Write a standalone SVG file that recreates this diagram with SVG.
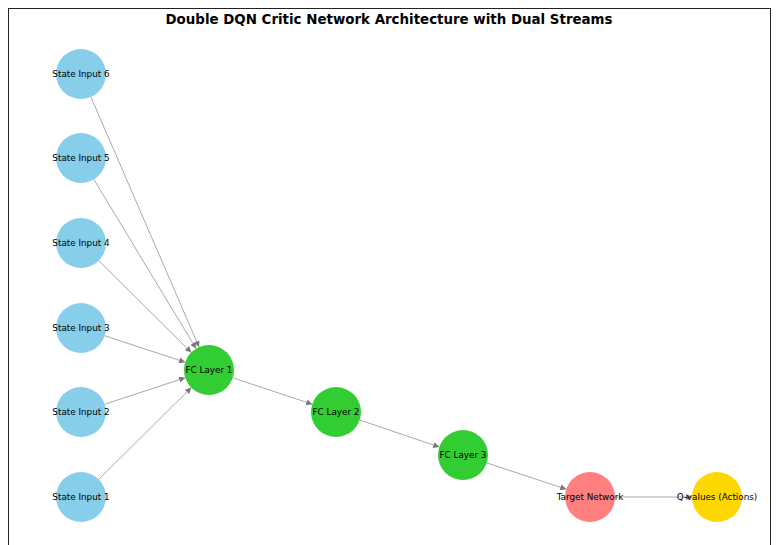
<svg xmlns="http://www.w3.org/2000/svg" width="779" height="545" viewBox="0 0 779 545">
<style>
.lbl{font-family:"DejaVu Sans",sans-serif;font-size:8.8px;fill:#000;text-anchor:middle;dominant-baseline:central}
.title{font-family:"DejaVu Sans",sans-serif;font-size:13.4px;font-weight:bold;fill:#000;text-anchor:middle}
.edge{stroke:#aaa;stroke-width:1;fill:none;marker-end:url(#arr)}
.in{fill:#87CEEB}
.fc{fill:#32CD32}
</style>
<defs>
<marker id="arr" viewBox="0 0 10 10" refX="10" refY="5" markerWidth="8" markerHeight="6" markerUnits="userSpaceOnUse" orient="auto">
<path d="M0,0 L10,5 L0,10 z" fill="#777"/>
</marker>
</defs>
<rect x="0" y="0" width="779" height="545" fill="#fff"/>
<rect x="8.5" y="8.5" width="762" height="545" fill="none" stroke="#222" stroke-width="1"/>
<text class="title" x="389" y="24">Double DQN Critic Network Architecture with Dual Streams</text>
<g id="connectors">
<line class="edge" x1="90.9" y1="96.9" x2="199.1" y2="347.1"/>
<line class="edge" x1="93.9" y1="179.4" x2="196.1" y2="348.6"/>
<line class="edge" x1="98.7" y1="260.6" x2="191.3" y2="352.4"/>
<line class="edge" x1="104.8" y1="335.8" x2="185.2" y2="362.2"/>
<line class="edge" x1="104.8" y1="404.2" x2="185.2" y2="377.8"/>
<line class="edge" x1="98.7" y1="479.4" x2="191.3" y2="387.6"/>
<line class="edge" x1="232.7" y1="377.8" x2="312.3" y2="404.2"/>
<line class="edge" x1="359.7" y1="420" x2="439.3" y2="447"/>
<line class="edge" x1="486.7" y1="462.9" x2="566.3" y2="489.2"/>
<line class="edge" x1="615" y1="497" x2="692" y2="497"/>
</g>
<g id="n_in6"><circle class="in" cx="81" cy="74" r="25"/><text class="lbl" x="81" y="74">State Input 6</text></g>
<g id="n_in5"><circle class="in" cx="81" cy="158" r="25"/><text class="lbl" x="81" y="158">State Input 5</text></g>
<g id="n_in4"><circle class="in" cx="81" cy="243" r="25"/><text class="lbl" x="81" y="243">State Input 4</text></g>
<g id="n_in3"><circle class="in" cx="81" cy="328" r="25"/><text class="lbl" x="81" y="328">State Input 3</text></g>
<g id="n_in2"><circle class="in" cx="81" cy="412" r="25"/><text class="lbl" x="81" y="412">State Input 2</text></g>
<g id="n_in1"><circle class="in" cx="81" cy="497" r="25"/><text class="lbl" x="81" y="497">State Input 1</text></g>
<g id="n_fc1"><circle class="fc" cx="209" cy="370" r="25"/><text class="lbl" x="209" y="370">FC Layer 1</text></g>
<g id="n_fc2"><circle class="fc" cx="336" cy="412" r="25"/><text class="lbl" x="336" y="412">FC Layer 2</text></g>
<g id="n_fc3"><circle class="fc" cx="463" cy="455" r="25"/><text class="lbl" x="463" y="455">FC Layer 3</text></g>
<g id="n_target"><circle cx="590" cy="497" r="25" fill="#FF7F7F"/><text class="lbl" x="590" y="497">Target Network</text></g>
<g id="n_q"><circle cx="717" cy="497" r="25" fill="#FFD700"/><text class="lbl" x="717" y="497">Q-values (Actions)</text></g>
</svg>
